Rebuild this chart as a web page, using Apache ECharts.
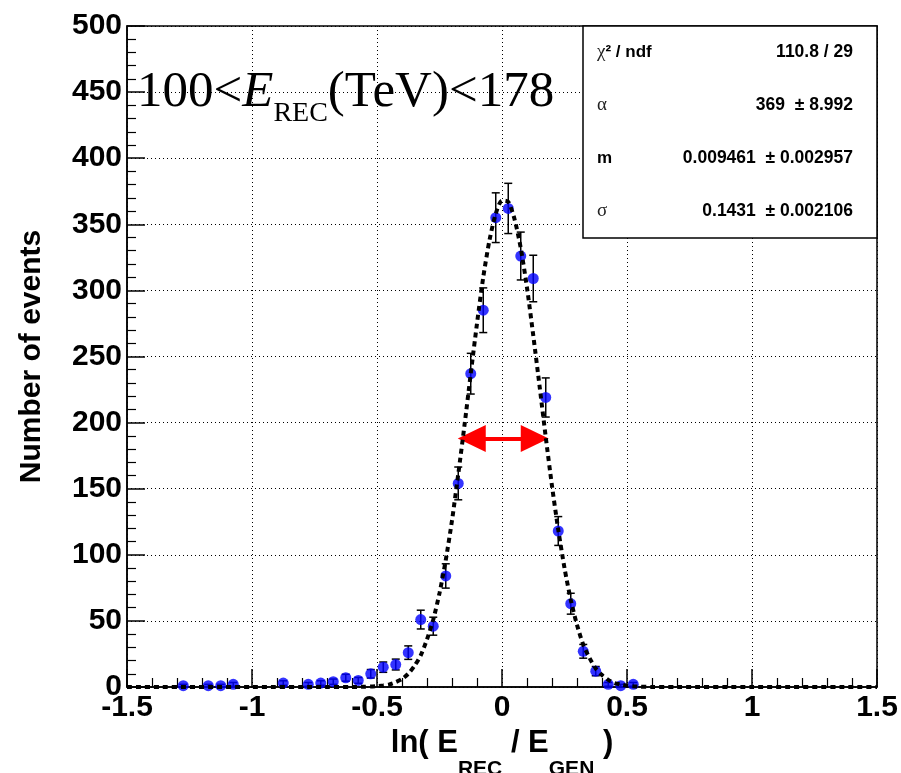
<!DOCTYPE html>
<html><head><meta charset="utf-8">
<script src="https://cdn.jsdelivr.net/npm/echarts@6/dist/echarts.min.js"></script>
<style>html,body{margin:0;padding:0;background:#fff}#c{width:901px;height:773px}</style>
</head><body><div id="c"></div>
<script>
// ---- data ----
const binCenters = [-1.275,-1.175,-1.125,-1.075,-0.875,-0.775,-0.725,-0.675,-0.625,-0.575,-0.525,-0.475,-0.425,-0.375,-0.325,-0.275,-0.225,-0.175,-0.125,-0.075,-0.025,0.025,0.075,0.125,0.175,0.225,0.275,0.325,0.375,0.425,0.475,0.525];
const counts     = [1,1,1,2,3,2,3,4,7,5,10,15,17,26,51,46,84,154,237,285,355,362,326,309,219,118,63,27,12,2,1,2];
const errors     = [1,1,1,1.4,1.7,1.4,1.7,2,2.6,2.2,3.2,3.9,4.1,5.1,7.1,6.8,9.2,12.4,15.4,16.9,18.8,19,18.1,17.6,14.8,10.9,7.9,5.2,3.5,1.4,1,1.4];
// fitted curve (dashed line)
const fitX = [-1.5,-1.0,-0.7,-0.6,-0.55,-0.525,-0.5,-0.475,-0.45,-0.425,-0.4,-0.375,-0.35,-0.325,-0.3,-0.275,-0.25,-0.225,-0.2,-0.175,-0.15,-0.125,-0.1,-0.075,-0.05,-0.025,0,0.025,0.05,0.075,0.1,0.125,0.15,0.175,0.2,0.225,0.25,0.275,0.3,0.325,0.35,0.375,0.4,0.425,0.45,0.475,0.5,0.525,0.55,0.6,0.7,1.0,1.5];
const fitY = [0,0,0,0,0.2,0.35,0.7,1.2,2,3.7,6,10,16,24,36,51,71,96,126,161,198,237,275,310,338,358,368,367,354,332,302,266,228,189,152,119,90,66,47,32,22,14,9,5.4,3,1.9,1,0.6,0.3,0,0,0,0];
// FWHM arrow (head centres) and its height
const arrowX = [-0.121, 0.131];
const arrowY = 188;
// axis ticks
const xTickMin = -1.5, xTickMax = 1.5, xTickStep = 0.5;
const yTickMin = 0, yTickMax = 500, yTickStep = 50;
// texts
const statNames  = ['χ² / ndf', 'α', 'm', 'σ'];
const statValues = ['110.8 / 29', '369  ± 8.992', '0.009461  ± 0.002957', '0.1431  ± 0.002106'];

const chart = echarts.init(document.getElementById('c'), null, {renderer:'canvas'});

const pts = binCenters.map((x,i)=>[x, counts[i]]);
const errData = binCenters.map((x,i)=>[x, Math.max(0, counts[i]-errors[i]), counts[i]+errors[i]]);
const fitData = fitX.map((x,i)=>[x, fitY[i]]);

const SANS = "'Liberation Sans', Arial, Helvetica, sans-serif";
const SERIF = "'Liberation Serif', 'Times New Roman', serif";

// stats box graphic
const boxL = 583, boxT = 26, boxR = 877, boxB = 238;
const rowH = (boxB - boxT) / statNames.length;
const statGraphics = [{
  type:'rect', shape:{x:boxL, y:boxT, width:boxR-boxL, height:boxB-boxT},
  style:{fill:'#fff', stroke:'#000', lineWidth:1.5}, z:100
}];
statNames.forEach((n,i)=>{
  const cy = boxT + rowH*(i+0.5);
  let txt;
  if (i === 0) { txt = '{g|χ}{b|² / ndf}'; }
  else if (n === 'm') { txt = '{b|m}'; }
  else { txt = '{g|' + n + '}'; }
  statGraphics.push({
    type:'text', x:597, y:cy, z:101,
    style:{text:txt, verticalAlign:'middle', align:'left',
      rich:{ b:{fontFamily:SANS, fontWeight:'bold', fontSize:17, fill:'#000'},
             g:{fontFamily:SERIF, fontSize:19, fill:'#222'} } }
  });
  statGraphics.push({
    type:'text', x:853, y:cy, z:101,
    style:{text:statValues[i], align:'right', verticalAlign:'middle',
      fontFamily:SANS, fontWeight:'bold', fontSize:17.5, fill:'#000'}
  });
});

const axisCommon = {
  axisLine:{show:true, onZero:false, lineStyle:{color:'#000', width:1.5}},
  axisTick:{show:true, inside:true, length:18, lineStyle:{color:'#000', width:1.5}},
  minorTick:{show:true, splitNumber:5, length:9, lineStyle:{color:'#000', width:1.2}},
  splitLine:{show:true, lineStyle:{color:'#000', width:1, type:[1,3]}},
  axisLabel:{color:'#000', fontFamily:SANS, fontWeight:'bold', fontSize:30}
};

chart.setOption({
  animation:false,
  backgroundColor:'#fff',
  title:{
    text:'{a|100<}{e|E}{s|REC}{a|(TeV)<178}',
    left:137, top:67, padding:0,
    textStyle:{
      fontWeight:'normal',
      rich:{
        a:{fontFamily:SERIF, fontWeight:'normal', fontSize:51, color:'#000', lineHeight:56, verticalAlign:'top'},
        e:{fontFamily:SERIF, fontWeight:'normal', fontSize:51, fontStyle:'italic', color:'#000', lineHeight:56, verticalAlign:'top'},
        s:{fontFamily:SERIF, fontWeight:'normal', fontSize:28, color:'#000', lineHeight:28, padding:[33,0,0,0], verticalAlign:'top'}
      }
    },
    z:50
  },
  grid:{left:127, right:24, top:26, bottom:86, containLabel:false, outerBoundsMode:'none',
        show:true, borderColor:'#000', borderWidth:1.5, backgroundColor:'transparent'},
  xAxis:Object.assign({}, axisCommon, {
    type:'value', min:xTickMin, max:xTickMax, interval:xTickStep,
    axisLabel:Object.assign({}, axisCommon.axisLabel, {margin:6}),
    name:'{a|ln( E}{s|REC}{a| / E}{s|GEN}{a| )}',
    nameLocation:'middle', nameGap:37,
    nameTextStyle:{
      rich:{
        a:{fontFamily:SANS, fontWeight:'bold', fontSize:31, color:'#000', lineHeight:40, verticalAlign:'top'},
        s:{fontFamily:SANS, fontWeight:'bold', fontSize:21, color:'#000', lineHeight:21, padding:[31,0,0,0], verticalAlign:'top'}
      }
    }
  }),
  yAxis:Object.assign({}, axisCommon, {
    type:'value', min:yTickMin, max:yTickMax, interval:yTickStep,
    axisLabel:Object.assign({}, axisCommon.axisLabel, {margin:5}),
    name:'Number of events', nameLocation:'middle', nameGap:80,
    nameTextStyle:{fontFamily:SANS, fontWeight:'bold', fontSize:30, color:'#000'}
  }),
  graphic:statGraphics,
  series:[
    {
      type:'custom', z:3, silent:true,
      renderItem:function(params, api){
        const x = api.value(0), lo = api.value(1), hi = api.value(2);
        const p1 = api.coord([x, hi]), p2 = api.coord([x, lo]);
        const cw = 4;
        const st = {stroke:'#000', lineWidth:1.5};
        return {type:'group', children:[
          {type:'line', shape:{x1:p1[0], y1:p1[1], x2:p2[0], y2:p2[1]}, style:st},
          {type:'line', shape:{x1:p1[0]-cw, y1:p1[1], x2:p1[0]+cw, y2:p1[1]}, style:st},
          {type:'line', shape:{x1:p2[0]-cw, y1:p2[1], x2:p2[0]+cw, y2:p2[1]}, style:st}
        ]};
      },
      encode:{x:0, y:[1,2]},
      data:errData
    },
    {
      type:'scatter', z:4, silent:true, symbol:'circle', symbolSize:11,
      itemStyle:{color:'#0000ff'}, data:pts
    },
    {
      type:'line', z:5, silent:true, showSymbol:false, smooth:0.25,
      lineStyle:{color:'#000', width:4, type:[5,4]}, data:fitData
    },
    {
      type:'line', z:6, silent:true, showSymbol:false, data:[],
      markLine:{
        silent:true, animation:false, symbol:['triangle','triangle'], symbolSize:[27,28],
        lineStyle:{color:'#ff0000', width:4, type:'solid'}, label:{show:false},
        emphasis:{disabled:true},
        data:[[{coord:[arrowX[0], arrowY]}, {coord:[arrowX[1], arrowY]}]]
      }
    }
  ]
});
</script>
</body></html>
